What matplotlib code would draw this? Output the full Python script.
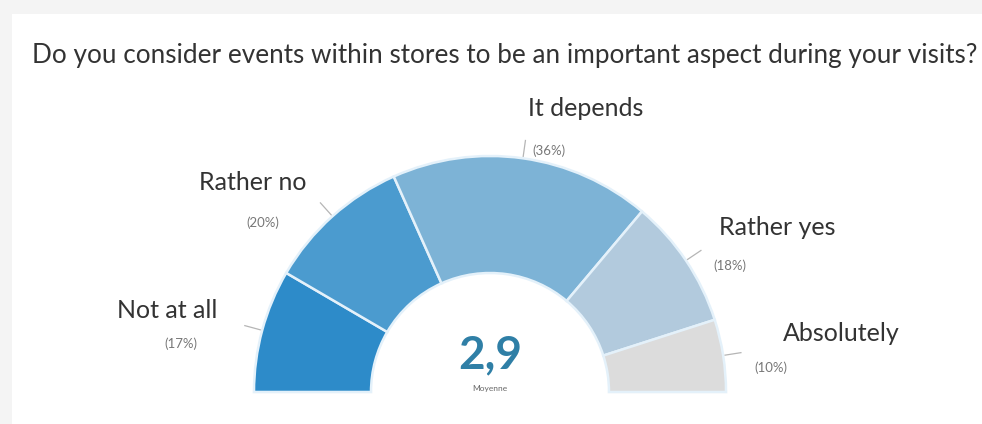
import numpy as np
import matplotlib
matplotlib.use("Agg")
import matplotlib.pyplot as plt
from matplotlib.patches import Wedge, Rectangle

# ── Survey answers ──────────────────────────────────────────
categories = ["Not at all", "Rather no", "It depends", "Rather yes", "Absolutely"]
percents = [17, 20, 36, 18, 10]
average = "2,9"
average_label = "Moyenne"
title = "Do you consider events within stores to be an important aspect during your visits?"

colors = ["#2d8bc9", "#4b9bcf", "#7db3d6", "#b2cadd", "#dcdcdc"]

# label offsets (px) from the leader-line tip: (name dx, name dy, pct dx, pct dy)
label_offsets = [
    (-78, 15, -64, -18),
    (-68, 20, -58, -20),
    (60, 32, 24, -10),
    (76, 23, 29, -15),
    (100, 19, 30, -15),
]

W, H = 982, 424
fig = plt.figure(figsize=(W / 100, H / 100), dpi=100)
fig.patch.set_facecolor("#f4f4f4")
ax = fig.add_axes([0, 0, 1, 1])
ax.set_xlim(0, W)
ax.set_ylim(0, H)
ax.set_aspect("equal")
ax.axis("off")

# white card
ax.add_patch(Rectangle((12, 0), W, H - 14, facecolor="white", edgecolor="none", zorder=0))

plt.rcParams["font.family"] = ["Lato", "DejaVu Sans"]

ax.text(505, H - 56, title, ha="center", va="center", fontsize=18.8, color="#333333")

# ── Half donut ──────────────────────────────────────────────
cx, cy = 490, H - 392
r_out, r_in = 236, 119
total = sum(percents)
start = 180.0
for name, p, c, off in zip(categories, percents, colors, label_offsets):
    span = p / total * 180.0
    end = start - span
    ax.add_patch(Wedge((cx, cy), r_out, end, start, width=r_out - r_in,
                       facecolor=c, edgecolor="#e4f1fa", linewidth=1.8, zorder=2))
    mid = np.deg2rad((start + end) / 2)
    x0, y0 = cx + 238 * np.cos(mid), cy + 238 * np.sin(mid)
    x1, y1 = cx + 254 * np.cos(mid), cy + 254 * np.sin(mid)
    ax.plot([x0, x1], [y0, y1], color="#b5b5b5", lw=0.9, zorder=3)
    ax.text(x1 + off[0], y1 + off[1], name, ha="center", va="center",
            fontsize=18, color="#333333")
    ax.text(x1 + off[2], y1 + off[3], f"({p}%)", ha="center", va="center",
            fontsize=9.5, color="#777777")
    start = end

# cover the bottom seam of the wedges
ax.plot([cx - r_out, cx - r_in], [cy, cy], color="#e4f1fa", lw=1.5, zorder=3)
ax.plot([cx + r_in, cx + r_out], [cy, cy], color="#e4f1fa", lw=1.5, zorder=3)

ax.text(cx, cy + 37, average, ha="center", va="center", fontsize=33,
        fontweight="bold", color="#2f7fa6", zorder=4)
ax.text(cx, cy + 3, average_label, ha="center", va="center", fontsize=6,
        color="#666666", zorder=4)

plt.savefig("out.png", dpi=100, facecolor=fig.get_facecolor())
plt.close()
